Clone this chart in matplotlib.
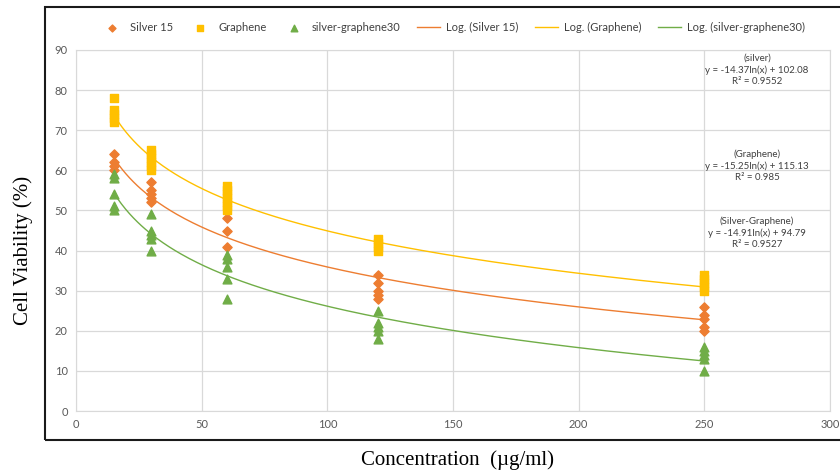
import numpy as np
import matplotlib.pyplot as plt
from matplotlib.patches import Rectangle

# concentrations (ug/ml) and measured viabilities (%)
x_silver = [15, 15, 15, 15, 30, 30, 30, 30, 30, 60, 60, 60,
            120, 120, 120, 120, 120, 250, 250, 250, 250, 250]
y_silver = [64, 62, 61, 60, 57, 55, 54, 53, 52, 48, 45, 41,
            34, 32, 30, 29, 28, 26, 24, 23, 21, 20]

x_graph = [15, 15, 15, 15, 15, 30, 30, 30, 30, 30, 30,
           60, 60, 60, 60, 60, 60, 60, 120, 120, 120, 120,
           250, 250, 250, 250, 250]
y_graph = [78, 75, 74, 73, 72, 65, 64, 63, 62, 61, 60,
           56, 55, 54, 53, 52, 51, 50, 43, 42, 41, 40,
           34, 33, 32, 31, 30]

x_sg = [15, 15, 15, 15, 15, 30, 30, 30, 30, 30, 60, 60, 60, 60, 60,
        120, 120, 120, 120, 120, 250, 250, 250, 250, 250]
y_sg = [59, 58, 54, 51, 50, 49, 45, 44, 43, 40, 39, 38, 36, 33, 28,
        25, 22, 21, 20, 18, 16, 15, 14, 13, 10]

# log trendline coefficients y = a*ln(x) + b, R^2
fit_silver = (-14.37, 102.08, 0.9552)
fit_graph = (-15.25, 115.13, 0.985)
fit_sg = (-14.91, 94.79, 0.9527)

c_orange = '#ED7D31'
c_yellow = '#FFC000'
c_green = '#70AD47'

plt.rcParams['font.family'] = ['Lato', 'DejaVu Sans']

fig = plt.figure(figsize=(8.4, 4.75), dpi=100)
ax = fig.add_axes([76/840, 1-411/475, (830-76)/840, (411-50)/475])

ax.scatter(x_silver, y_silver, marker='D', s=22, color=c_orange, label='Silver 15', zorder=3)
ax.scatter(x_graph, y_graph, marker='s', s=34, color=c_yellow, label='Graphene', zorder=3)
ax.scatter(x_sg, y_sg, marker='^', s=40, color=c_green, label='silver-graphene30', zorder=3)

xx = np.linspace(15, 250, 300)
for (a, b, r2), col, name in [(fit_silver, c_orange, 'Log. (Silver 15)'),
                              (fit_graph, c_yellow, 'Log. (Graphene)'),
                              (fit_sg, c_green, 'Log. (silver-graphene30)')]:
    ax.plot(xx, a*np.log(xx) + b, color=col, lw=1, label=name, zorder=2)

ax.set_xlim(0, 300)
ax.set_ylim(0, 90)
ax.set_xticks(np.arange(0, 301, 50))
ax.set_yticks(np.arange(0, 91, 10))
ax.grid(True, color='#d9d9d9', lw=0.9)
ax.set_axisbelow(True)
for s in ax.spines.values():
    s.set_color('#d9d9d9')
ax.tick_params(length=0, labelsize=8, colors='#595959', pad=6)

notes = [('(silver)', fit_silver, 70), ('(Graphene)', fit_graph, 166), ('(Silver-Graphene)', fit_sg, 233)]
for title, (a, b, r2), ypix in notes:
    txt = '%s\ny = %.2fln(x) + %.2f\nR² = %s' % (title, a, b, r2)
    fig.text(757/840, 1-ypix/475, txt, ha='center', va='center', fontsize=7,
             color='#404040', linespacing=1.3)

ax.legend(loc='lower center', bbox_to_anchor=(0.5, 1.02), ncol=6, frameon=False,
          fontsize=8, handlelength=2.0, columnspacing=1.5, handletextpad=0.6,
          markerscale=0.75, labelcolor='#404040')

fig.text(23/840, 1-250/475, 'Cell Viability (%)', family='Liberation Serif', fontsize=15,
         rotation=90, ha='center', va='center')
fig.text(458/840, 1-460/475, 'Concentration  (µg/ml)', family='Liberation Serif',
         fontsize=15, ha='center', va='center')

fig.patches.append(Rectangle((45/840, 1-440/475), 1.0, (440-7)/475, transform=fig.transFigure,
                             fill=False, edgecolor='#1a1a1a', lw=1.5))

fig.savefig('out.png', dpi=100)
